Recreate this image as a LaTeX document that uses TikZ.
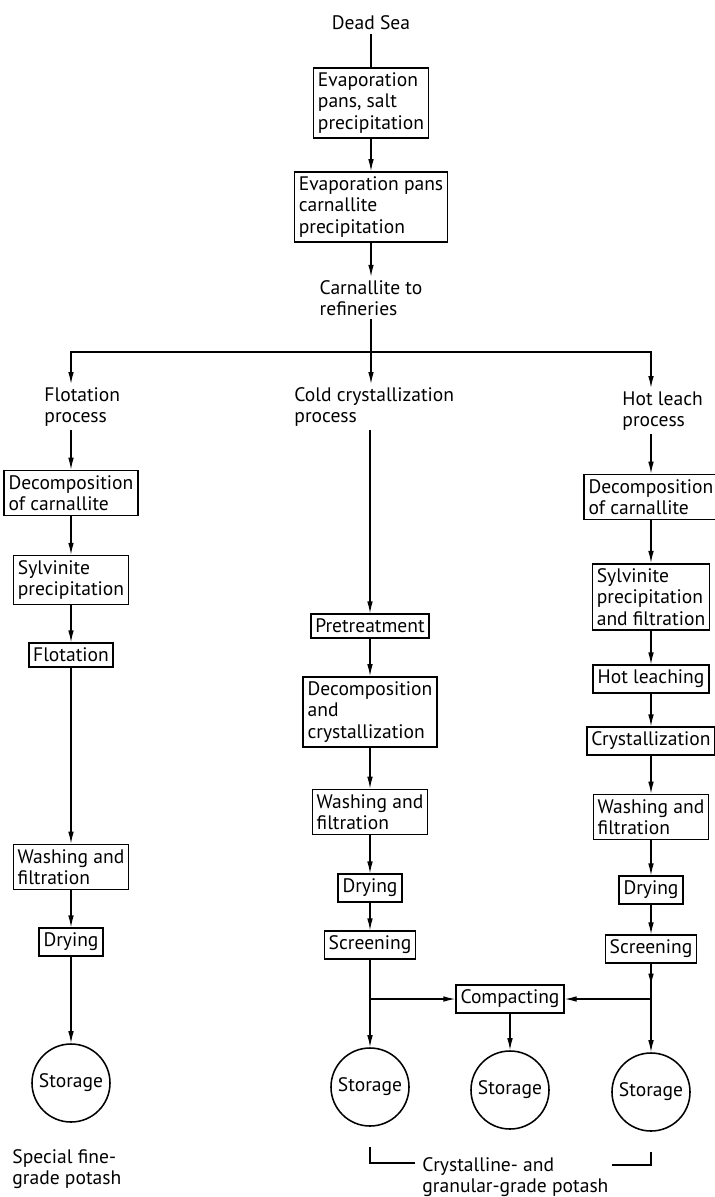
\documentclass[tikz,border=0pt]{standalone}
\usepackage{fontspec}
\setmainfont{PT Sans}
\usetikzlibrary{positioning, arrows.meta, calc, decorations.markings}

\begin{document}
\begin{tikzpicture}[x=0.025cm, y=-0.025cm,
    every node/.style={font=\fontsize{13.9}{15.2}\selectfont},
    box/.style={draw, line width=1.1pt, align=left, inner xsep=1.1mm, inner ysep=1.2mm},
    store/.style={draw, circle, line width=1.1pt, minimum size=1.95cm, inner sep=0pt},
    txt/.style={align=left, inner sep=0.8mm},
    flow/.style={-{Latex[length=3mm, width=1.4mm]}, line width=0.9pt},
    midflow/.style={line width=0.9pt, decoration={markings, mark=at position 0.62 with {\arrow{Latex[length=3mm, width=1.4mm]}}}, postaction={decorate}}]
        \useasboundingbox (0,0) rectangle (715,1197);
        \node[txt] (sea) at (371,23) {Dead Sea};
        \node[box] (evp1) at (371,103) {Evaporation\\pans, salt\\precipitation};
        \node[box] (evp2) at (371,207) {Evaporation pans\\carnallite\\precipitation};
        \node[txt] (carn) at (371,298) {Carnallite to\\refineries};
        \coordinate (split) at (371,352);
        \node[txt, anchor=north west] (flot) at (41,384) {Flotation\\process};
        \node[txt, anchor=north west] (cold) at (291,384) {Cold crystallization\\process};
        \node[txt, anchor=north west] (hot) at (619,388) {Hot leach\\process};
        \node[box] (dec1) at (71,493) {Decomposition\\of carnallite};
        \node[box] (syl1) at (71,580) {Sylvinite\\precipitation};
        \node[box] (flo) at (71,655) {Flotation};
        \node[box] (wsh1) at (71,867) {Washing and\\filtration};
        \node[box] (dry1) at (71,942) {Drying};
        \node[store] (st1) at (71,1083) {Storage};
        \node[box] (pre) at (370,626) {Pretreatment};
        \node[box] (dcr) at (370,712) {Decomposition\\and\\crystallization};
        \node[box] (wsh2) at (370,812) {Washing and\\filtration};
        \node[box] (dry2) at (370,888) {Drying};
        \node[box] (scr2) at (370,945) {Screening};
        \node[store] (st2) at (370,1087) {Storage};
        \node[box] (comp) at (510,999) {Compacting};
        \node[store] (st3) at (510,1090) {Storage};
        \node[box] (dec3) at (651,497) {Decomposition\\of carnallite};
        \node[box] (syl3) at (651,597) {Sylvinite\\precipitation\\and filtration};
        \node[box] (hotl) at (651,679) {Hot leaching};
        \node[box] (cry) at (651,741) {Crystallization};
        \node[box] (wsh3) at (651,817) {Washing and\\filtration};
        \node[box] (dry3) at (651,890) {Drying};
        \node[box] (scr3) at (651,949) {Screening};
        \node[store] (st4) at (651,1092) {Storage};
        \node[txt, anchor=north west] (fine) at (9,1146) {Special fine-\\grade potash};
        \node[txt, anchor=north west] (grade) at (419,1154) {Crystalline- and\\granular-grade potash};
        \coordinate (brl) at (370,1147);
        \coordinate (brlend) at (415,1163);
        \coordinate (brrend) at (612,1165);
        \coordinate (brr) at (651,1152);
        \draw[line width=0.9pt] (sea.south) -- (evp1.north);
        \draw[flow] (evp1.south) -- (evp2.north);
        \draw[flow] (evp2.south) -- (carn.north);
        \draw[flow] (carn.south) -- (carn.south |- cold.north);
        \draw[flow] (split) -| (dec1.north |- flot.north);
        \draw[flow] (split) -| (dec3.north |- hot.north);
        \draw[flow] (dec1.north |- flot.south) -- (dec1.north);
        \draw[flow] (dec1.south) -- (syl1.north);
        \draw[flow] (syl1.south) -- (flo.north);
        \draw[flow] (flo.south) -- (wsh1.north);
        \draw[flow] (wsh1.south) -- (dry1.north);
        \draw[flow] (dry1.south) -- (st1.north);
        \draw[flow] (pre.north |- cold.south) -- (pre.north);
        \draw[flow] (pre.south) -- (dcr.north);
        \draw[flow] (dcr.south) -- (wsh2.north);
        \draw[flow] (wsh2.south) -- (dry2.north);
        \draw[flow] (dry2.south) -- (scr2.north);
        \draw[flow] (scr2.south) -- (st2.north);
        \draw[flow] (scr2.south |- comp.west) -- (comp.west);
        \draw[flow] (comp.south) -- (st3.north);
        \draw[flow] (dec3.north |- hot.south) -- (dec3.north);
        \draw[flow] (dec3.south) -- (syl3.north);
        \draw[flow] (syl3.south) -- (hotl.north);
        \draw[flow] (hotl.south) -- (cry.north);
        \draw[flow] (cry.south) -- (wsh3.north);
        \draw[flow] (wsh3.south) -- (dry3.north);
        \draw[flow] (dry3.south) -- (scr3.north);
        \draw[midflow] (scr3.south) -- (scr3.south |- comp.east);
        \draw[flow] (scr3.south |- comp.east) -- (comp.east);
        \draw[flow] (scr3.south |- comp.east) -- (st4.north);
        \draw[line width=0.9pt] (brl) |- (brlend);
        \draw[line width=0.9pt] (brrend) -| (brr);
      \end{tikzpicture}
\end{document}
